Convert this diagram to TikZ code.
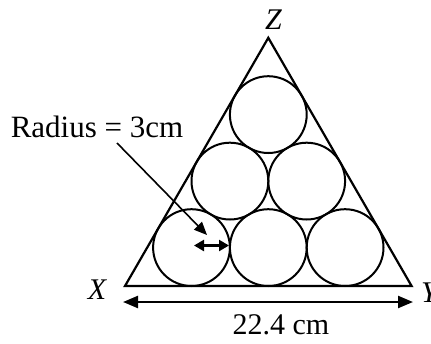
\documentclass[tikz,border=0pt]{standalone}
\usepackage{fontspec}
\setmainfont{Liberation Serif}
\usetikzlibrary{arrows.meta}
\begin{document}
\begin{tikzpicture}[x=1pt,y=-1pt,
  lbl/.style={inner sep=0pt,font=\fontsize{30}{34}\selectfont},
  ilbl/.style={inner sep=0pt,font=\fontsize{30}{34}\selectfont\itshape},
  ball/.style={draw,line width=2pt},
  edge/.style={line width=2.2pt,line join=miter},
  dim/.style={line width=2.3pt,{Triangle[length=15pt,width=12pt]}-{Triangle[length=15pt,width=12pt]}},
  lead/.style={line width=1.6pt,-{Triangle[length=13pt,width=11pt]}},
  small/.style={line width=2.3pt,{Triangle[length=10pt,width=11pt]}-{Triangle[length=10pt,width=11pt]}}]
\useasboundingbox (0,0) rectangle (431,343);
\def\r{38.4}
% vertices
\coordinate (X) at (125,286);
\coordinate (Y) at (411.6,286);
\coordinate (Z) at (268.3,37.8);
\draw[edge] (X) -- (Y) -- (Z) -- cycle;
% circles
\coordinate (c1) at (191.5,247.6);
\coordinate (c2) at (268.3,247.6);
\coordinate (c3) at (345.1,247.6);
\coordinate (c4) at (229.9,181.1);
\coordinate (c5) at (306.7,181.1);
\coordinate (c6) at (268.3,114.6);
\foreach \c in {c1,c2,c3,c4,c5,c6} \draw[ball] (\c) circle (\r);
% labels
\node[ilbl] (zl) at (273.5,19.5) {Z};
\node[ilbl] (xl) at (97,290) {X};
\node[ilbl,anchor=west] (yl) at (421,293) {Y};
\node[lbl,font=\fontsize{31}{35}\selectfont] (rl) at (97,127) {Radius = 3cm};
\node[lbl] (wl) at (281,325) {22.4 cm};
% dimension arrow
\coordinate (a1) at (123,302);
\coordinate (a2) at (413,302);
\draw[dim] (a1) -- (a2);
% leader
\coordinate (l1) at (117,143);
\coordinate (l2) at (207,235);
\draw[lead] (l1) -- (l2);
% radius arrow
\coordinate (s1) at (194,245.5);
\coordinate (s2) at (229,245.5);
\draw[small] (s1) -- (s2);
\end{tikzpicture}
\end{document}
